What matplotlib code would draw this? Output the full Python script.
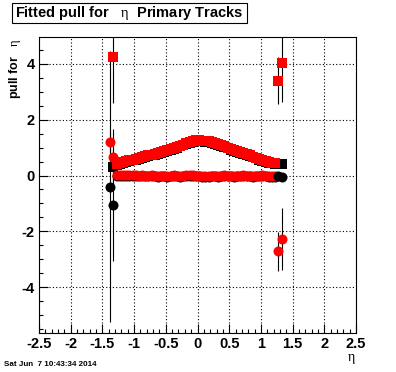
import matplotlib.pyplot as plt
from matplotlib.patches import Rectangle
from matplotlib.ticker import MultipleLocator

plt.rcParams['mathtext.fontset'] = 'custom'
plt.rcParams['mathtext.rm'] = 'Liberation Serif'
plt.rcParams['mathtext.it'] = 'Liberation Serif'

# bin centres of the main bands
band_x = [-1.275, -1.225, -1.175, -1.125, -1.075, -1.025, -0.975, -0.925, -0.875, -0.825,
          -0.775, -0.725, -0.675, -0.625, -0.575, -0.525, -0.475, -0.425, -0.375, -0.325,
          -0.275, -0.225, -0.175, -0.125, -0.075, -0.025, 0.025, 0.075, 0.125, 0.175,
          0.225, 0.275, 0.325, 0.375, 0.425, 0.475, 0.525, 0.575, 0.625, 0.675,
          0.725, 0.775, 0.825, 0.875, 0.925, 0.975, 1.025, 1.075, 1.125, 1.175, 1.225]

red_sq = [0.42, 0.45, 0.48, 0.51, 0.54, 0.57, 0.60, 0.63, 0.66, 0.69,
          0.72, 0.75, 0.78, 0.81, 0.85, 0.88, 0.92, 0.95, 0.99, 1.03,
          1.07, 1.11, 1.15, 1.19, 1.23, 1.26, 1.26, 1.25, 1.24, 1.22,
          1.19, 1.16, 1.12, 1.08, 1.04, 1.00, 0.96, 0.92, 0.88, 0.84,
          0.80, 0.76, 0.72, 0.68, 0.64, 0.60, 0.56, 0.52, 0.49, 0.46, 0.43]
black_sq = [0.39, 0.42, 0.45, 0.48, 0.51, 0.54, 0.57, 0.60, 0.63, 0.66,
            0.69, 0.72, 0.75, 0.78, 0.82, 0.85, 0.89, 0.92, 0.96, 1.00,
            1.04, 1.08, 1.12, 1.16, 1.20, 1.23, 1.23, 1.22, 1.21, 1.19,
            1.16, 1.13, 1.09, 1.05, 1.01, 0.97, 0.93, 0.89, 0.85, 0.81,
            0.77, 0.73, 0.69, 0.65, 0.61, 0.57, 0.53, 0.49, 0.46, 0.43, 0.41]
red_ci = [0.03, 0.02, 0.02, 0.01, 0.01, 0.02, 0.01, 0.00, 0.01, 0.00,
          0.00, 0.01, 0.00, -0.01, 0.00, 0.00, -0.01, 0.00, 0.01, 0.00,
          -0.01, 0.00, 0.01, 0.02, 0.01, 0.00, 0.00, -0.01, -0.02, -0.01,
          0.00, 0.00, -0.01, 0.00, 0.01, 0.00, 0.00, -0.01, 0.00, 0.00,
          0.01, 0.00, 0.00, -0.01, 0.00, 0.00, 0.01, 0.00, -0.01, -0.01, -0.02]
black_ci = [0.00, -0.01, -0.01, -0.02, -0.02, -0.01, -0.02, -0.03, -0.02, -0.03,
            -0.03, -0.02, -0.03, -0.04, -0.03, -0.03, -0.04, -0.03, -0.02, -0.03,
            -0.04, -0.03, -0.02, -0.01, -0.02, -0.03, -0.03, -0.04, -0.05, -0.04,
            -0.03, -0.03, -0.04, -0.03, -0.02, -0.03, -0.03, -0.04, -0.03, -0.03,
            -0.02, -0.03, -0.03, -0.04, -0.03, -0.03, -0.02, -0.03, -0.04, -0.04, -0.05]

# edge bins with large errors
black_sq_x = [-1.325, 1.275, 1.325]
black_sq_y = [0.32, 0.42, 0.40]
black_ci_x = [-1.375, -1.325, 1.275, 1.325]
black_ci_y = [-0.40, -1.05, -0.03, -0.05]
black_ci_e = [4.85, 2.00, 0.03, 0.03]
red_sq_x = [-1.325, 1.275, 1.325]
red_sq_y = [4.25, 3.40, 4.03]
red_sq_e = [1.65, 0.85, 1.40]
red_ci_x = [-1.375, -1.325, 1.275, 1.325]
red_ci_y = [1.20, 0.65, -2.72, -2.27]
red_ci_e = [0.40, 1.00, 0.70, 1.10]

xticks = [-2.5, -2, -1.5, -1, -0.5, 0, 0.5, 1, 1.5, 2, 2.5]
xlabels = ['-2.5', '-2', '-1.5', '-1', '-0.5', '0', '0.5', '1', '1.5', '2', '2.5']
yticks = [-4, -2, 0, 2, 4]
ylabels = ['-4', '-2', '0', '2', '4']

fig = plt.figure(figsize=(3.96, 3.72), dpi=100)
ax = fig.add_axes([39/396, 39/372, 317/396, 296/372])

ms_c = 7.2
ms_s = 6.9
ekw = dict(ecolor='black', elinewidth=0.8, capsize=0, linestyle='none', markeredgewidth=0)

ax.errorbar(black_ci_x, black_ci_y, yerr=black_ci_e, fmt='o', color='black', ms=ms_c, **ekw)
ax.plot(band_x, black_ci, 'o', color='black', ms=ms_c, mew=0)
ax.plot(band_x, black_sq, 's', color='black', ms=ms_s, mew=0)
ax.plot(black_sq_x, black_sq_y, 's', color='black', ms=ms_s, mew=0)
ax.errorbar(red_sq_x, red_sq_y, yerr=red_sq_e, fmt='s', color='red', ms=ms_s, **ekw)
ax.errorbar(red_ci_x, red_ci_y, yerr=red_ci_e, fmt='o', color='red', ms=ms_c, **ekw)
ax.plot(band_x, red_sq, 's', color='red', ms=ms_s, mew=0)
ax.plot(band_x, red_ci, 'o', color='red', ms=ms_c, mew=0)

ax.set_xlim(-2.5, 2.5)
ax.set_ylim(-5.64, 4.96)
ax.set_xticks(xticks)
ax.set_xticklabels(xlabels, fontweight='bold', family='Liberation Sans')
ax.set_yticks(yticks)
ax.set_yticklabels(ylabels, fontweight='bold', family='Liberation Sans')
ax.xaxis.set_minor_locator(MultipleLocator(0.1))
ax.yaxis.set_minor_locator(MultipleLocator(0.5))
ax.grid(True, which='major', color='black', linestyle=(0, (1, 2)), linewidth=0.8)
ax.tick_params(which='both', direction='in', top=False, right=False, width=0.8)
ax.tick_params(which='major', length=6.5, labelsize=10.5, pad=3)
ax.tick_params(which='minor', length=3.2)
for s in ax.spines.values():
    s.set_linewidth(0.8)

# title box
fig.patches.append(Rectangle((12/396, 1 - 23/372), 235/396, 20/372, transform=fig.transFigure,
                             facecolor='white', edgecolor='black', linewidth=0.8))
fig.text(129.5/396, 1 - 13/372, r'Fitted pull for   $\mathrm{\eta}$  Primary Tracks',
         ha='center', va='center', fontsize=10.5, fontweight='bold', family='Liberation Sans')

fig.text(15/396, 1 - 38/372, r'pull for   $\mathrm{\eta}$', rotation=90, ha='center', va='top',
         fontsize=9, fontweight='bold', family='Liberation Sans')
fig.text(351/396, 1 - 359/372, r'$\mathrm{\eta}$', ha='center', va='center', fontsize=10)
fig.text(4/396, 1 - 364/372, 'Sat Jun  7 10:43:34 2014', ha='left', va='center',
         fontsize=5.8, fontweight='bold', family='Liberation Sans')

plt.savefig('out.png', dpi=100)
